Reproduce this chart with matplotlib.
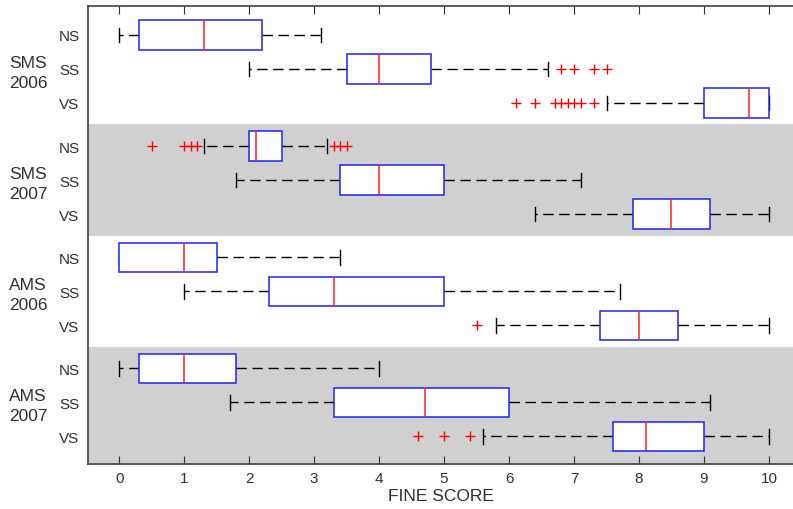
import matplotlib.pyplot as plt
from matplotlib.transforms import blended_transform_factory

plt.rcParams['font.family'] = ['Liberation Sans', 'DejaVu Sans']

# rows top to bottom: NS, SS, VS for each group
groups = ["SMS\n2006", "SMS\n2007", "AMS\n2006", "AMS\n2007"]
row_names = ["NS", "SS", "VS"]

whis_lo = [0.0, 2.0, 7.5,   1.3, 1.8, 6.4,   0.0, 1.0, 5.8,   0.0, 1.7, 5.6]
q1      = [0.3, 3.5, 9.0,   2.0, 3.4, 7.9,   0.0, 2.3, 7.4,   0.3, 3.3, 7.6]
medians = [1.3, 4.0, 9.7,   2.1, 4.0, 8.5,   1.0, 3.3, 8.0,   1.0, 4.7, 8.1]
q3      = [2.2, 4.8, 10.0,  2.5, 5.0, 9.1,   1.5, 5.0, 8.6,   1.8, 6.0, 9.0]
whis_hi = [3.1, 6.6, 10.0,  3.2, 7.1, 10.0,  3.4, 7.7, 10.0,  4.0, 9.1, 10.0]
outliers = [
    [], [6.8, 7.0, 7.3, 7.5], [6.1, 6.4, 6.7, 6.8, 6.9, 7.0, 7.1, 7.3],
    [0.5, 1.0, 1.1, 1.2, 3.3, 3.4, 3.5], [], [],
    [], [], [5.5],
    [], [], [4.6, 5.0, 5.4],
]

group_step = 3.27
positions = [g * group_step + r + 1 for g in range(len(groups)) for r in range(3)]
y_top = 0.15
y_bottom = positions[-1] + 0.81

stats = []
for i in range(len(positions)):
    stats.append({
        "whislo": whis_lo[i], "q1": q1[i], "med": medians[i],
        "q3": q3[i], "whishi": whis_hi[i], "fliers": outliers[i],
    })

fig = plt.figure(figsize=(7.93, 5.10), dpi=100)
ax = fig.add_axes([88 / 793, 1 - 465 / 510, 1 - 88 / 793, (465 - 7) / 510])

# grey bands behind 2nd and 4th group
for g in [1, 3]:
    lo = (positions[3 * g - 1] + positions[3 * g]) / 2
    hi = (positions[3 * g + 2] + positions[3 * g + 3]) / 2 if g < 3 else y_bottom
    ax.axhspan(lo, hi, color="#d0d0d0", zorder=0, lw=0)

ax.bxp(stats, positions=positions, vert=False, widths=0.86, patch_artist=True,
       boxprops=dict(facecolor="white", edgecolor="#2020ff", linewidth=1.1, zorder=3),
       medianprops=dict(color="#ff2020", linewidth=1.1, zorder=4),
       whiskerprops=dict(color="black", linestyle=(0, (7.5, 4)), linewidth=1, zorder=2),
       capprops=dict(color="black", linewidth=1, zorder=2),
       flierprops=dict(marker="+", markeredgecolor="red", markersize=7, linestyle="none"),
       manage_ticks=False)

ax.set_xlim(-0.48, 10.37)
ax.set_ylim(y_bottom, y_top)

ax.set_xticks(range(0, 11))
ax.tick_params(axis="x", direction="in", length=5.5, top=True, labelsize=11,
               pad=5, colors="#303030")
ax.set_yticks(positions)
ax.set_yticklabels(row_names * len(groups))
ax.tick_params(axis="y", length=0, pad=6, labelsize=11, labelcolor="#303030")

for side in ["left", "top", "bottom"]:
    ax.spines[side].set_color("#404040")
    ax.spines[side].set_linewidth(1.2)
ax.spines["right"].set_visible(False)

trans = blended_transform_factory(ax.transAxes, ax.transData)
for g, name in enumerate(groups):
    ax.text(-0.085, positions[3 * g + 1] + 0.1, name, transform=trans, ha="center",
            va="center", fontsize=12.5, color="#303030", linespacing=1.4)

ax.set_xlabel("FINE SCORE", fontsize=12.5, color="#303030", labelpad=2)

fig.savefig("out.png", dpi=100)
